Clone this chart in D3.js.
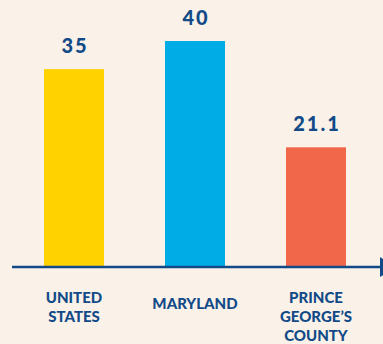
<!DOCTYPE html>
<html>
<head>
<meta charset="utf-8">
<script src="https://cdn.jsdelivr.net/npm/d3@7"></script>
<style>
  html, body { margin: 0; padding: 0; background: #faf2e9; }
  svg { display: block; }
  text { font-family: Lato, "Open Sans", sans-serif; font-weight: 900; fill: #124a88; }
</style>
</head>
<body>
<svg id="chart" width="383" height="344"></svg>
<script>
// Category names (each line of a label is a separate entry)
const categories = ["United States", "Maryland", "Prince George's County"];
const categoryLines = [["UNITED", "STATES"], ["MARYLAND"], ["PRINCE", "GEORGE\u2019S", "COUNTY"]];
const values = [35, 40, 21.1];
const valueLabels = ["35", "40", "21.1"];
const barColors = ["#ffd200", "#00ace6", "#f1674a"];

const W = 383, H = 344;
const svg = d3.select("#chart");
const baseY = 266;
const axisColor = "#124a88";

const x = d3.scaleBand()
  .domain(categories)
  .range([13.75, 376.25])
  .paddingInner(0.504)
  .paddingOuter(0.25);

const y = d3.scaleLinear()
  .domain([0, 40])
  .range([baseY, 41]);

// bars
svg.append("g").selectAll("rect")
  .data(categories)
  .join("rect")
  .attr("x", d => x(d))
  .attr("width", x.bandwidth())
  .attr("y", (d, i) => y(values[i]))
  .attr("height", (d, i) => baseY - y(values[i]))
  .attr("fill", (d, i) => barColors[i]);

// value labels above bars
svg.append("g").selectAll("text")
  .data(categories)
  .join("text")
  .attr("x", d => x(d) + x.bandwidth() / 2 + 1)
  .attr("y", (d, i) => y(values[i]) - 16)
  .attr("text-anchor", "middle")
  .attr("font-size", 20)
  .attr("letter-spacing", 2)
  .text((d, i) => valueLabels[i]);

// baseline axis with arrowhead
svg.append("line")
  .attr("x1", 12).attr("x2", 381)
  .attr("y1", baseY + 1).attr("y2", baseY + 1)
  .attr("stroke", axisColor)
  .attr("stroke-width", 2.6);
svg.append("path")
  .attr("d", `M380,${baseY + 1 - 10} L396,${baseY + 1} L380,${baseY + 1 + 10} Z`)
  .attr("fill", axisColor);

// category labels
const lineH = 19;
const labels = svg.append("g").selectAll("text")
  .data(categories)
  .join("text")
  .attr("text-anchor", "middle")
  .attr("font-size", 15)
  .attr("font-weight", 800)
  .attr("x", d => x(d) + x.bandwidth() / 2)
  .attr("y", (d, i) => categoryLines[i].length === 1 ? 309 : 303);
labels.selectAll("tspan")
  .data((d, i) => categoryLines[i].map(t => ({ t, cx: x(d) + x.bandwidth() / 2 })))
  .join("tspan")
  .attr("x", d => d.cx)
  .attr("dy", (d, j) => j === 0 ? 0 : lineH)
  .text(d => d.t);
</script>
</body>
</html>
